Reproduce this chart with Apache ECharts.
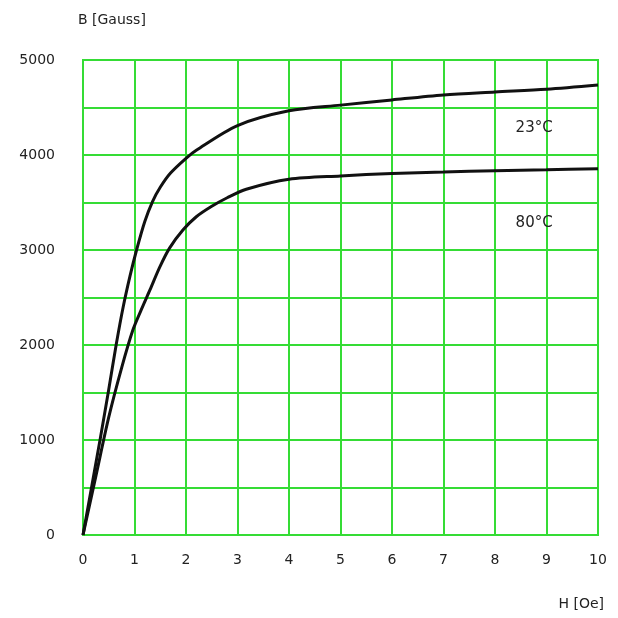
<!DOCTYPE html>
<html>
<head>
<meta charset="utf-8">
<script src="https://cdn.jsdelivr.net/npm/echarts@6/dist/echarts.min.js"></script>
<style>
  html, body { margin: 0; padding: 0; background: #fff; }
  #chart { width: 618px; height: 618px; }
</style>
</head>
<body>
<div id="chart"></div>
<script>
// Magnetization curves B(H) at two temperatures
const fieldH23 = [0, 0.34, 0.49, 0.65, 0.78, 0.91, 1.04, 1.2, 1.35, 1.5, 1.7, 2.0, 2.2, 3, 4, 5, 6, 7, 8, 9, 10];
const fluxB23  = [0, 1030, 1500, 2020, 2400, 2720, 3000, 3300, 3510, 3660, 3810, 3965, 4050, 4310, 4465, 4525, 4580, 4632, 4663, 4692, 4737];

const fieldH80 = [0, 0.25, 0.5, 0.75, 0.97, 1.13, 1.3, 1.49, 1.68, 1.94, 2.2, 2.5, 2.8, 3.17, 4, 5, 6, 7, 8, 9, 10];
const fluxB80  = [0, 620, 1240, 1760, 2160, 2370, 2580, 2820, 3020, 3210, 3350, 3460, 3550, 3640, 3745, 3780, 3805, 3820, 3835, 3845, 3856];

const curveNames = ['23°C', '80°C'];
const curveLabelPos = [[8.76, 4284], [8.76, 3284]];

const xTickLabels = ['0', '1', '2', '3', '4', '5', '6', '7', '8', '9', '10'];
const yTickLabels = ['0', '1000', '2000', '3000', '4000', '5000'];

const GREEN = '#35dc35';
const TEXT = '#222';
const FONT = '"DejaVu Sans", sans-serif';

const pairs = (xs, ys) => xs.map((x, i) => [x, ys[i]]);

const chart = echarts.init(document.getElementById('chart'), null, { renderer: 'canvas' });

function curve(name, xs, ys, labelPos) {
  return {
    name: name,
    type: 'line',
    data: pairs(xs, ys),
    showSymbol: false,
    smooth: 0.3,
    lineStyle: { color: '#111', width: 3 },
    itemStyle: { color: '#111' },
    z: 5,
    markPoint: {
      symbol: 'circle',
      symbolSize: 0,
      silent: true,
      data: [{ coord: labelPos, value: name }],
      label: {
        show: true,
        position: 'inside',
        formatter: name,
        color: TEXT,
        fontFamily: FONT,
        fontSize: 15
      }
    }
  };
}

chart.setOption({
  animation: false,
  backgroundColor: '#fff',
  grid: {
    left: 83, right: 20, top: 60, bottom: 83,
    show: true, borderColor: GREEN, borderWidth: 2
  },
  xAxis: {
    type: 'value',
    min: 0, max: 10, interval: 1,
    name: 'H [Oe]',
    nameLocation: 'end',
    nameGap: 6,
    nameTextStyle: {
      color: TEXT, fontFamily: FONT, fontSize: 14,
      align: 'right', verticalAlign: 'top', padding: [62, 0, 0, 0]
    },
    axisLine: { show: true, lineStyle: { color: GREEN, width: 2 } },
    axisTick: { show: false },
    splitLine: { show: true, lineStyle: { color: GREEN, width: 2 } },
    axisLabel: {
      margin: 18,
      color: TEXT, fontFamily: FONT, fontSize: 14,
      formatter: v => xTickLabels[Math.round(v)] ?? ''
    }
  },
  yAxis: {
    type: 'value',
    min: 0, max: 5000, interval: 500,
    name: 'B [Gauss]',
    nameLocation: 'end',
    nameGap: 40,
    nameTextStyle: {
      color: TEXT, fontFamily: FONT, fontSize: 14,
      align: 'left', verticalAlign: 'middle', padding: [0, 0, 0, -5]
    },
    axisLine: { show: true, lineStyle: { color: GREEN, width: 2 } },
    axisTick: { show: false },
    splitLine: { show: true, lineStyle: { color: GREEN, width: 2 } },
    axisLabel: {
      margin: 28,
      color: TEXT, fontFamily: FONT, fontSize: 14,
      formatter: v => (v % 1000 === 0 ? yTickLabels[v / 1000] : '')
    }
  },
  series: [
    curve(curveNames[0], fieldH23, fluxB23, curveLabelPos[0]),
    curve(curveNames[1], fieldH80, fluxB80, curveLabelPos[1])
  ]
});
</script>
</body>
</html>
